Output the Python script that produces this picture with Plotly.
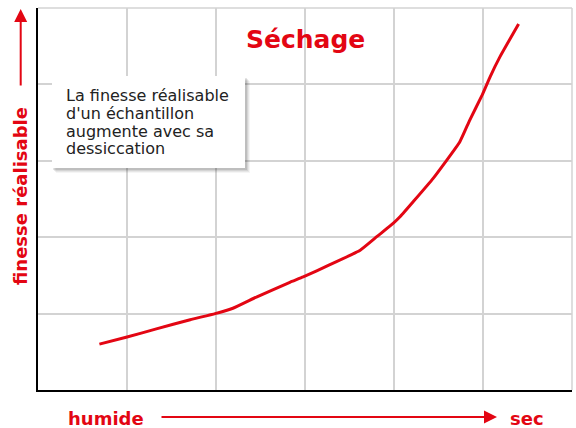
import plotly.graph_objects as go

# Data (in grid units: x 0..6 columns, y 0..5 rows)
humidity_x = [0.69, 0.99, 1.33, 1.71, 1.99, 2.19, 2.46, 2.83, 2.98, 3.28, 3.62, 3.81,
              3.99, 4.07, 4.22, 4.44, 4.74, 4.85, 4.99, 5.08, 5.19, 5.40]
finesse_y = [0.60, 0.69, 0.80, 0.92, 1.00, 1.07, 1.22, 1.41, 1.48, 1.64, 1.83, 2.01,
             2.18, 2.27, 2.47, 2.77, 3.25, 3.53, 3.86, 4.10, 4.36, 4.79]

title_text = "Séchage"
y_label = "finesse réalisable"
x_low_label = "humide"
x_high_label = "sec"
note_lines = ["La finesse réalisable", "d'un échantillon", "augmente avec sa", "dessiccation"]

RED = "#e30613"
GRID = "#d3d3d3"

W, H = 576, 428
L, R, T, B = 38, 4, 8, 38
pw, ph = W - L - R, H - T - B


def px(xp):
    return (xp - L) / pw


def py(yp):
    return (H - B - yp) / ph


fig = go.Figure()
fig.add_trace(go.Scatter(x=humidity_x, y=finesse_y, mode="lines",
                         line=dict(color=RED, width=3, shape="spline", smoothing=0.4),
                         hoverinfo="skip", showlegend=False))

bx0, bx1, by0, by1 = 52, 245, 76, 168
shapes = []
# shadow layers
for off, a in [(5, 0.04), (4, 0.06), (3, 0.08), (2, 0.1)]:
    shapes.append(dict(type="rect", xref="paper", yref="paper",
                       x0=px(bx0 + off - 1), x1=px(bx1 + off), y0=py(by1 + off), y1=py(by0 + off),
                       fillcolor=f"rgba(0,0,0,{a})", line=dict(width=0), layer="above"))
shapes.append(dict(type="rect", xref="paper", yref="paper",
                   x0=px(bx0), x1=px(bx1), y0=py(by1), y1=py(by0),
                   fillcolor="white", line=dict(width=0), layer="above"))
# top/right border grid lines
shapes.append(dict(type="line", xref="paper", yref="paper", x0=0, x1=1, y0=1, y1=1,
                   line=dict(color=GRID, width=1.5), layer="below"))
shapes.append(dict(type="line", xref="paper", yref="paper", x0=1, x1=1, y0=0, y1=1,
                   line=dict(color=GRID, width=1.5), layer="below"))

bold = dict(family="DejaVu Sans", color=RED, weight="bold")
note_html = "<br>".join(f'<span style="font-size:16px">{t}</span>' for t in note_lines)
annotations = [
    dict(text=title_text, x=px(305), y=py(39), xref="paper", yref="paper",
         xanchor="center", yanchor="middle", showarrow=False, font=dict(size=25, **bold)),
    dict(text=y_label, x=px(20.5), y=py(196.5), xref="paper", yref="paper",
         xanchor="center", yanchor="middle", textangle=-90, showarrow=False,
         font=dict(size=18, **bold)),
    dict(text="", x=px(20.7), y=py(9), xref="paper", yref="paper",
         showarrow=True, ax=0, ay=78, axref="pixel", ayref="pixel",
         arrowhead=2, arrowsize=1.3, arrowwidth=2, arrowcolor=RED),
    dict(text=x_low_label, x=px(106), y=py(418), xref="paper", yref="paper",
         xanchor="center", yanchor="middle", showarrow=False, font=dict(size=18, **bold)),
    dict(text=x_high_label, x=px(526.5), y=py(418), xref="paper", yref="paper",
         xanchor="center", yanchor="middle", showarrow=False, font=dict(size=18, **bold)),
    dict(text="", x=px(497), y=py(417), xref="paper", yref="paper",
         showarrow=True, ax=-337, ay=0, axref="pixel", ayref="pixel",
         arrowhead=2, arrowsize=1.3, arrowwidth=2, arrowcolor=RED),
    dict(text=note_html, x=px(64), y=py(122.5), xref="paper", yref="paper",
         xanchor="left", yanchor="middle", align="left", showarrow=False,
         font=dict(family="DejaVu Sans", size=13.7, color="#222")),
]

fig.update_layout(
    width=W, height=H,
    margin=dict(l=L, r=R, t=T, b=B),
    paper_bgcolor="white", plot_bgcolor="white",
    shapes=shapes, annotations=annotations,
    xaxis=dict(range=[0, 6], dtick=1, tick0=0, showgrid=True, gridcolor=GRID, gridwidth=1.5,
               showticklabels=False, ticks="", zeroline=False,
               showline=True, linecolor="black", linewidth=1.5, fixedrange=True),
    yaxis=dict(range=[0, 5], dtick=1, tick0=0, showgrid=True, gridcolor=GRID, gridwidth=1.5,
               showticklabels=False, ticks="", zeroline=False,
               showline=True, linecolor="black", linewidth=1.5, fixedrange=True),
)

fig.write_html("out.html", config={"displayModeBar": False},
               post_script="document.body.style.margin='0';document.body.style.overflow='hidden';")
